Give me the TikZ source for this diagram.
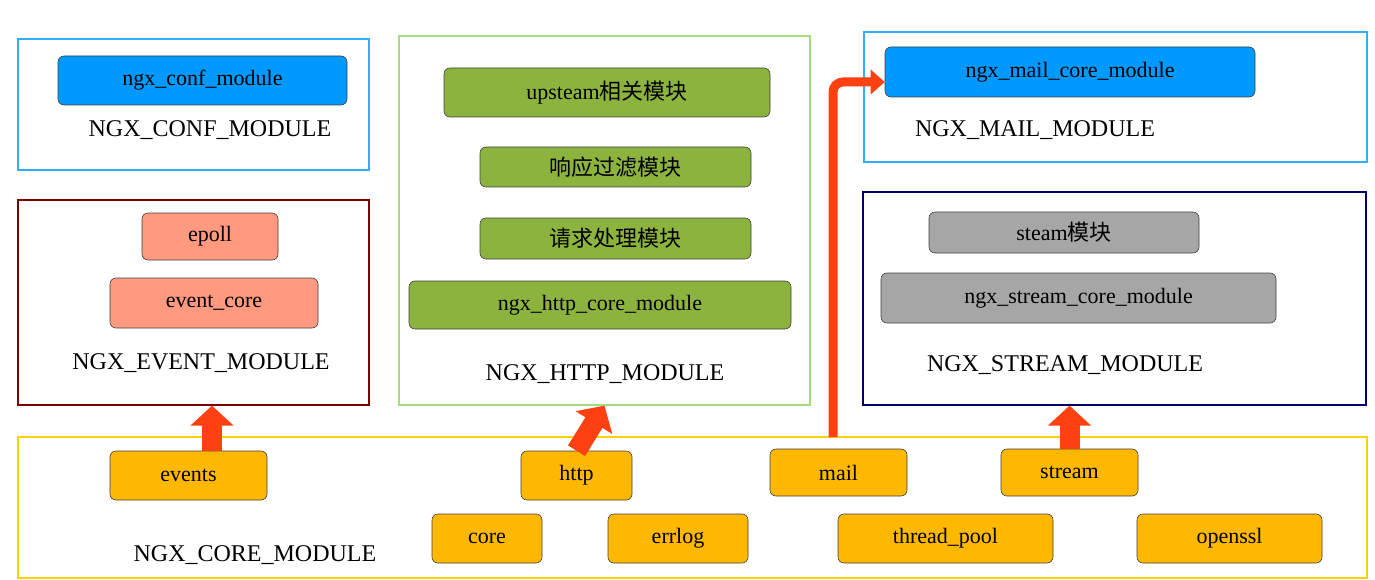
\documentclass[tikz,border=0pt]{standalone}
\usepackage{fontspec}
\setmainfont{Liberation Serif}
\newfontfamily\cjk{Noto Sans CJK SC}
\usetikzlibrary{arrows.meta}
\definecolor{cblue}{HTML}{0099FF}
\definecolor{csal}{HTML}{FF9980}
\definecolor{cgreen}{HTML}{8DB33F}
\definecolor{cgray}{HTML}{A6A6A6}
\definecolor{cyel}{HTML}{FFB800}
\definecolor{carr}{HTML}{FF4010}
\begin{document}
\begin{tikzpicture}[x=1pt,y=-1pt,
 box/.style={draw=#1,line width=1.2pt,inner sep=0pt},
 mod/.style={draw=black!75,line width=0.6pt,rounded corners=6pt,fill=#1,inner sep=0pt,font=\fontsize{22}{26}\selectfont},
 lbl/.style={font=\fontsize{24}{28}\selectfont,inner sep=0pt},
 up/.style={draw=carr,line width=20pt,-{Triangle[length=20pt,width=42pt]}}]
\useasboundingbox (0,0) rectangle (1375,580);
\newcommand\bx[6]{\node[#1,minimum width={#4-#2},minimum height={#5-#3}] (#6) at ({(#2+#4)/2},{(#3+#5)/2}) {};}
\newcommand\md[7]{\node[mod=#1,minimum width={#4-#2},minimum height={#5-#3}] (#6) at ({(#2+#4)/2},{(#3+#5)/2}) {#7};}
% outer boxes
\bx{box=cblue!80}{18}{39}{369}{170}{conf}
\bx{box=red!50!black}{18}{200}{369}{405}{event}
\bx{box=green!40!olive!50}{399}{36}{810}{405}{http}
\bx{box=cblue!80}{864}{32}{1367}{162}{mail}
\bx{box=blue!40!black}{863}{192}{1366}{405}{stream}
\bx{box=yellow!70!orange}{18}{437}{1367}{578}{core}
% modules
\md{cblue}{58}{56}{347}{105}{mconf}{ngx\_conf\_module}
\node[lbl] (lconf) at (210,130) {NGX\_CONF\_MODULE};
\md{csal}{142}{213}{278}{260}{epoll}{epoll}
\md{csal}{110}{278}{318}{328}{evcore}{event\_core}
\node[lbl] (levent) at (201,363) {NGX\_EVENT\_MODULE};
\md{cgreen}{444}{68}{770}{117}{ups}{upsteam{\cjk 相关模块}}
\md{cgreen}{480}{147}{751}{187}{filt}{{\cjk 响应过滤模块}}
\md{cgreen}{480}{218}{751}{259}{req}{{\cjk 请求处理模块}}
\md{cgreen}{409}{281}{791}{329}{hcore}{ngx\_http\_core\_module}
\node[lbl] (lhttp) at (605,374) {NGX\_HTTP\_MODULE};
\md{cblue}{885}{47}{1255}{97}{mcore}{ngx\_mail\_core\_module}
\node[lbl] (lmail) at (1035,130) {NGX\_MAIL\_MODULE};
\md{cgray}{929}{212}{1199}{253}{steam}{steam{\cjk 模块}}
\md{cgray}{881}{273}{1276}{323}{score}{ngx\_stream\_core\_module}
\node[lbl] (lstream) at (1065,365) {NGX\_STREAM\_MODULE};
\md{cyel}{110}{451}{267}{500}{events}{events}
\md{cyel}{521}{451}{632}{500}{hhttp}{http}
\md{cyel}{770}{449}{907}{496}{hmail}{mail}
\md{cyel}{1001}{449}{1138}{496}{hstream}{stream}
\md{cyel}{432}{514}{542}{563}{ccore}{core}
\md{cyel}{608}{514}{748}{563}{errlog}{errlog}
\md{cyel}{838}{514}{1053}{563}{tpool}{thread\_pool}
\md{cyel}{1137}{514}{1322}{563}{openssl}{openssl}
\node[lbl] (lcore) at (255,555) {NGX\_CORE\_MODULE};
% arrows
\draw[up] (events.north -| 212,0) -- (event.south -| 212,0);
\draw[up] (hhttp.north) -- (http.south);
\draw[up] (hstream.north) -- ([yshift=-0pt]stream.south -| hstream.north);
\coordinate (mstart) at (833,437);
\draw[draw=carr,line width=9pt,rounded corners=10pt,-{Triangle[length=14pt,width=24pt]}] (mstart) -- (833,82) -- (mcore.west |- 0,82);
\end{tikzpicture}
\end{document}
